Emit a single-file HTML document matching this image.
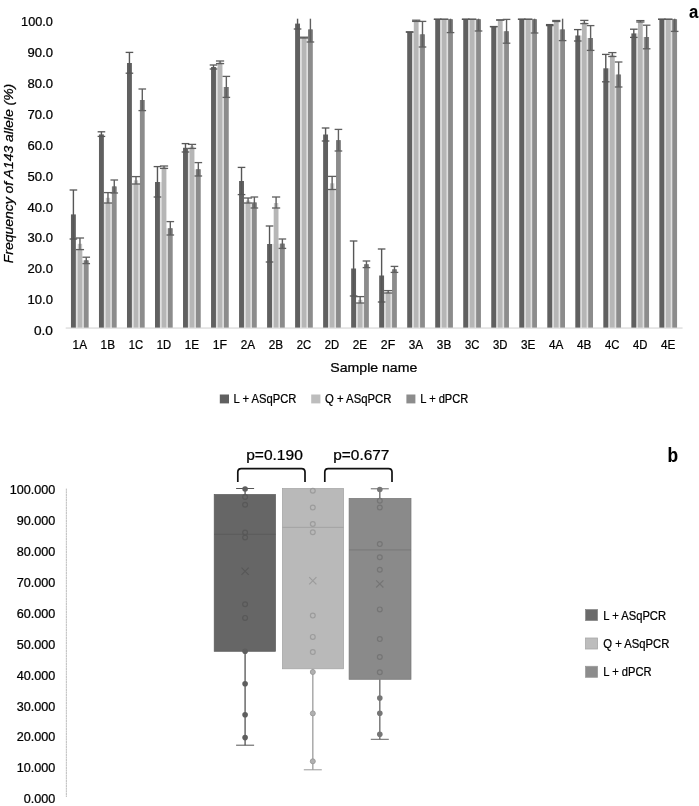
<!DOCTYPE html>
<html><head><meta charset="utf-8"><title>Figure</title>
<style>html,body{margin:0;padding:0;background:#fff}svg{display:block}text{font-family:"Liberation Sans",sans-serif}</style>
</head><body>
<svg width="699" height="806" viewBox="0 0 699 806">
<rect width="699" height="806" fill="#fff"/>
<rect x="65.7" y="327.5" width="616.9" height="1.1" fill="#d4d4d4"/>
<rect x="75.65" y="249.60" width="2" height="78.00" fill="#e0e0e0"/>
<rect x="82.25" y="260.40" width="2" height="67.20" fill="#e0e0e0"/>
<rect x="70.95" y="214.40" width="4.9" height="113.20" fill="#606060"/>
<rect x="77.75" y="243.80" width="4.4" height="5.80" fill="#c6c6c6"/>
<rect x="77.55" y="249.60" width="4.8" height="78.00" fill="#b6b6b6"/>
<rect x="83.85" y="260.40" width="4.8" height="67.20" fill="#8c8c8c"/>
<rect x="72.70" y="190.00" width="1.4" height="49.00" fill="#575757"/>
<rect x="69.60" y="189.35" width="7.6" height="1.3" fill="#575757"/>
<rect x="69.60" y="238.35" width="7.6" height="1.3" fill="#575757"/>
<rect x="79.25" y="238.00" width="1.4" height="11.60" fill="#5e5e5e"/>
<rect x="75.85" y="237.35" width="8.2" height="1.3" fill="#5e5e5e"/>
<rect x="75.85" y="248.95" width="8.2" height="1.3" fill="#5e5e5e"/>
<rect x="84.25" y="260.40" width="4" height="3.20" fill="#757575"/>
<rect x="85.55" y="257.20" width="1.4" height="6.40" fill="#606060"/>
<rect x="82.45" y="256.55" width="7.6" height="1.3" fill="#606060"/>
<rect x="82.45" y="262.95" width="7.6" height="1.3" fill="#606060"/>
<text x="79.80" y="349.3" font-size="12.5" text-anchor="middle" textLength="14.4" lengthAdjust="spacingAndGlyphs" fill="#000" stroke="#000" stroke-width="0.24" >1A</text>
<rect x="103.67" y="203.00" width="2" height="124.60" fill="#e0e0e0"/>
<rect x="110.27" y="203.00" width="2" height="124.60" fill="#e0e0e0"/>
<rect x="98.97" y="134.40" width="4.9" height="193.20" fill="#606060"/>
<rect x="105.77" y="197.80" width="4.4" height="5.20" fill="#c6c6c6"/>
<rect x="105.57" y="203.00" width="4.8" height="124.60" fill="#b6b6b6"/>
<rect x="111.87" y="186.50" width="4.8" height="141.10" fill="#8c8c8c"/>
<rect x="100.72" y="131.80" width="1.4" height="4.60" fill="#575757"/>
<rect x="97.62" y="131.15" width="7.6" height="1.3" fill="#575757"/>
<rect x="97.62" y="135.75" width="7.6" height="1.3" fill="#575757"/>
<rect x="107.27" y="192.60" width="1.4" height="10.40" fill="#5e5e5e"/>
<rect x="103.87" y="191.95" width="8.2" height="1.3" fill="#5e5e5e"/>
<rect x="103.87" y="202.35" width="8.2" height="1.3" fill="#5e5e5e"/>
<rect x="112.27" y="186.50" width="4" height="6.50" fill="#757575"/>
<rect x="113.57" y="180.00" width="1.4" height="13.00" fill="#606060"/>
<rect x="110.47" y="179.35" width="7.6" height="1.3" fill="#606060"/>
<rect x="110.47" y="192.35" width="7.6" height="1.3" fill="#606060"/>
<text x="107.82" y="349.3" font-size="12.5" text-anchor="middle" textLength="14.4" lengthAdjust="spacingAndGlyphs" fill="#000" stroke="#000" stroke-width="0.24" >1B</text>
<rect x="131.69" y="184.00" width="2" height="143.60" fill="#e0e0e0"/>
<rect x="138.29" y="184.00" width="2" height="143.60" fill="#e0e0e0"/>
<rect x="126.99" y="63.00" width="4.9" height="264.60" fill="#606060"/>
<rect x="133.79" y="180.30" width="4.4" height="3.70" fill="#c6c6c6"/>
<rect x="133.59" y="184.00" width="4.8" height="143.60" fill="#b6b6b6"/>
<rect x="139.89" y="100.00" width="4.8" height="227.60" fill="#8c8c8c"/>
<rect x="128.74" y="52.40" width="1.4" height="20.80" fill="#575757"/>
<rect x="125.64" y="51.75" width="7.6" height="1.3" fill="#575757"/>
<rect x="125.64" y="72.55" width="7.6" height="1.3" fill="#575757"/>
<rect x="135.29" y="176.60" width="1.4" height="7.40" fill="#5e5e5e"/>
<rect x="131.89" y="175.95" width="8.2" height="1.3" fill="#5e5e5e"/>
<rect x="131.89" y="183.35" width="8.2" height="1.3" fill="#5e5e5e"/>
<rect x="140.29" y="100.00" width="4" height="10.60" fill="#757575"/>
<rect x="141.59" y="89.00" width="1.4" height="21.60" fill="#606060"/>
<rect x="138.49" y="88.35" width="7.6" height="1.3" fill="#606060"/>
<rect x="138.49" y="109.95" width="7.6" height="1.3" fill="#606060"/>
<text x="135.84" y="349.3" font-size="12.5" text-anchor="middle" textLength="14.4" lengthAdjust="spacingAndGlyphs" fill="#000" stroke="#000" stroke-width="0.24" >1C</text>
<rect x="159.71" y="182.00" width="2" height="145.60" fill="#e0e0e0"/>
<rect x="166.31" y="228.30" width="2" height="99.30" fill="#e0e0e0"/>
<rect x="155.01" y="182.00" width="4.9" height="145.60" fill="#606060"/>
<rect x="161.81" y="167.20" width="4.4" height="1.20" fill="#c6c6c6"/>
<rect x="161.61" y="168.40" width="4.8" height="159.20" fill="#b6b6b6"/>
<rect x="167.91" y="228.30" width="4.8" height="99.30" fill="#8c8c8c"/>
<rect x="156.76" y="166.60" width="1.4" height="30.40" fill="#575757"/>
<rect x="153.66" y="165.95" width="7.6" height="1.3" fill="#575757"/>
<rect x="153.66" y="196.35" width="7.6" height="1.3" fill="#575757"/>
<rect x="163.31" y="166.00" width="1.4" height="2.40" fill="#5e5e5e"/>
<rect x="159.91" y="165.35" width="8.2" height="1.3" fill="#5e5e5e"/>
<rect x="159.91" y="167.75" width="8.2" height="1.3" fill="#5e5e5e"/>
<rect x="168.31" y="228.30" width="4" height="6.70" fill="#757575"/>
<rect x="169.61" y="221.60" width="1.4" height="13.40" fill="#606060"/>
<rect x="166.51" y="220.95" width="7.6" height="1.3" fill="#606060"/>
<rect x="166.51" y="234.35" width="7.6" height="1.3" fill="#606060"/>
<text x="163.86" y="349.3" font-size="12.5" text-anchor="middle" textLength="14.4" lengthAdjust="spacingAndGlyphs" fill="#000" stroke="#000" stroke-width="0.24" >1D</text>
<rect x="187.73" y="148.40" width="2" height="179.20" fill="#e0e0e0"/>
<rect x="194.33" y="169.30" width="2" height="158.30" fill="#e0e0e0"/>
<rect x="183.03" y="147.80" width="4.9" height="179.80" fill="#606060"/>
<rect x="189.83" y="146.40" width="4.4" height="2.00" fill="#c6c6c6"/>
<rect x="189.63" y="148.40" width="4.8" height="179.20" fill="#b6b6b6"/>
<rect x="195.93" y="169.30" width="4.8" height="158.30" fill="#8c8c8c"/>
<rect x="184.78" y="143.60" width="1.4" height="8.40" fill="#575757"/>
<rect x="181.68" y="142.95" width="7.6" height="1.3" fill="#575757"/>
<rect x="181.68" y="151.35" width="7.6" height="1.3" fill="#575757"/>
<rect x="191.33" y="144.40" width="1.4" height="4.00" fill="#5e5e5e"/>
<rect x="187.93" y="143.75" width="8.2" height="1.3" fill="#5e5e5e"/>
<rect x="187.93" y="147.75" width="8.2" height="1.3" fill="#5e5e5e"/>
<rect x="196.33" y="169.30" width="4" height="6.70" fill="#757575"/>
<rect x="197.63" y="162.60" width="1.4" height="13.40" fill="#606060"/>
<rect x="194.53" y="161.95" width="7.6" height="1.3" fill="#606060"/>
<rect x="194.53" y="175.35" width="7.6" height="1.3" fill="#606060"/>
<text x="191.88" y="349.3" font-size="12.5" text-anchor="middle" textLength="14.4" lengthAdjust="spacingAndGlyphs" fill="#000" stroke="#000" stroke-width="0.24" >1E</text>
<rect x="215.75" y="67.00" width="2" height="260.60" fill="#e0e0e0"/>
<rect x="222.35" y="87.00" width="2" height="240.60" fill="#e0e0e0"/>
<rect x="211.05" y="67.00" width="4.9" height="260.60" fill="#606060"/>
<rect x="217.85" y="62.30" width="4.4" height="1.30" fill="#c6c6c6"/>
<rect x="217.65" y="63.60" width="4.8" height="264.00" fill="#b6b6b6"/>
<rect x="223.95" y="87.00" width="4.8" height="240.60" fill="#8c8c8c"/>
<rect x="212.80" y="65.00" width="1.4" height="4.00" fill="#575757"/>
<rect x="209.70" y="64.35" width="7.6" height="1.3" fill="#575757"/>
<rect x="209.70" y="68.35" width="7.6" height="1.3" fill="#575757"/>
<rect x="219.35" y="61.00" width="1.4" height="2.60" fill="#5e5e5e"/>
<rect x="215.95" y="60.35" width="8.2" height="1.3" fill="#5e5e5e"/>
<rect x="215.95" y="62.95" width="8.2" height="1.3" fill="#5e5e5e"/>
<rect x="224.35" y="87.00" width="4" height="10.40" fill="#757575"/>
<rect x="225.65" y="76.40" width="1.4" height="21.00" fill="#606060"/>
<rect x="222.55" y="75.75" width="7.6" height="1.3" fill="#606060"/>
<rect x="222.55" y="96.75" width="7.6" height="1.3" fill="#606060"/>
<text x="219.90" y="349.3" font-size="12.5" text-anchor="middle" textLength="14.4" lengthAdjust="spacingAndGlyphs" fill="#000" stroke="#000" stroke-width="0.24" >1F</text>
<rect x="243.77" y="203.00" width="2" height="124.60" fill="#e0e0e0"/>
<rect x="250.37" y="203.00" width="2" height="124.60" fill="#e0e0e0"/>
<rect x="239.07" y="181.00" width="4.9" height="146.60" fill="#606060"/>
<rect x="245.87" y="200.50" width="4.4" height="2.50" fill="#c6c6c6"/>
<rect x="245.67" y="203.00" width="4.8" height="124.60" fill="#b6b6b6"/>
<rect x="251.97" y="202.50" width="4.8" height="125.10" fill="#8c8c8c"/>
<rect x="240.82" y="167.40" width="1.4" height="27.20" fill="#575757"/>
<rect x="237.72" y="166.75" width="7.6" height="1.3" fill="#575757"/>
<rect x="237.72" y="193.95" width="7.6" height="1.3" fill="#575757"/>
<rect x="247.37" y="198.00" width="1.4" height="5.00" fill="#5e5e5e"/>
<rect x="243.97" y="197.35" width="8.2" height="1.3" fill="#5e5e5e"/>
<rect x="243.97" y="202.35" width="8.2" height="1.3" fill="#5e5e5e"/>
<rect x="252.37" y="202.50" width="4" height="5.50" fill="#757575"/>
<rect x="253.67" y="197.00" width="1.4" height="11.00" fill="#606060"/>
<rect x="250.57" y="196.35" width="7.6" height="1.3" fill="#606060"/>
<rect x="250.57" y="207.35" width="7.6" height="1.3" fill="#606060"/>
<text x="247.92" y="349.3" font-size="12.5" text-anchor="middle" textLength="14.4" lengthAdjust="spacingAndGlyphs" fill="#000" stroke="#000" stroke-width="0.24" >2A</text>
<rect x="271.79" y="244.00" width="2" height="83.60" fill="#e0e0e0"/>
<rect x="278.39" y="243.70" width="2" height="83.90" fill="#e0e0e0"/>
<rect x="267.09" y="244.00" width="4.9" height="83.60" fill="#606060"/>
<rect x="273.89" y="203.00" width="4.4" height="5.00" fill="#c6c6c6"/>
<rect x="273.69" y="208.00" width="4.8" height="119.60" fill="#b6b6b6"/>
<rect x="279.99" y="243.70" width="4.8" height="83.90" fill="#8c8c8c"/>
<rect x="268.84" y="226.00" width="1.4" height="36.00" fill="#575757"/>
<rect x="265.74" y="225.35" width="7.6" height="1.3" fill="#575757"/>
<rect x="265.74" y="261.35" width="7.6" height="1.3" fill="#575757"/>
<rect x="275.39" y="197.00" width="1.4" height="11.00" fill="#5e5e5e"/>
<rect x="271.99" y="196.35" width="8.2" height="1.3" fill="#5e5e5e"/>
<rect x="271.99" y="207.35" width="8.2" height="1.3" fill="#5e5e5e"/>
<rect x="280.39" y="243.70" width="4" height="4.70" fill="#757575"/>
<rect x="281.69" y="239.00" width="1.4" height="9.40" fill="#606060"/>
<rect x="278.59" y="238.35" width="7.6" height="1.3" fill="#606060"/>
<rect x="278.59" y="247.75" width="7.6" height="1.3" fill="#606060"/>
<text x="275.94" y="349.3" font-size="12.5" text-anchor="middle" textLength="14.4" lengthAdjust="spacingAndGlyphs" fill="#000" stroke="#000" stroke-width="0.24" >2B</text>
<rect x="299.81" y="38.00" width="2" height="289.60" fill="#e0e0e0"/>
<rect x="306.41" y="38.00" width="2" height="289.60" fill="#e0e0e0"/>
<rect x="295.11" y="23.60" width="4.9" height="304.00" fill="#606060"/>
<rect x="301.91" y="37.60" width="4.4" height="0.40" fill="#c6c6c6"/>
<rect x="301.71" y="38.00" width="4.8" height="289.60" fill="#b6b6b6"/>
<rect x="308.01" y="29.50" width="4.8" height="298.10" fill="#8c8c8c"/>
<rect x="296.86" y="18.70" width="1.4" height="10.30" fill="#575757"/>
<rect x="293.76" y="28.35" width="7.6" height="1.3" fill="#575757"/>
<rect x="303.41" y="37.20" width="1.4" height="0.80" fill="#5e5e5e"/>
<rect x="300.01" y="36.55" width="8.2" height="1.3" fill="#5e5e5e"/>
<rect x="300.01" y="37.35" width="8.2" height="1.3" fill="#5e5e5e"/>
<rect x="308.41" y="29.50" width="4" height="12.50" fill="#757575"/>
<rect x="309.71" y="18.70" width="1.4" height="23.30" fill="#606060"/>
<rect x="306.61" y="41.35" width="7.6" height="1.3" fill="#606060"/>
<text x="303.96" y="349.3" font-size="12.5" text-anchor="middle" textLength="14.4" lengthAdjust="spacingAndGlyphs" fill="#000" stroke="#000" stroke-width="0.24" >2C</text>
<rect x="327.83" y="189.50" width="2" height="138.10" fill="#e0e0e0"/>
<rect x="334.43" y="189.50" width="2" height="138.10" fill="#e0e0e0"/>
<rect x="323.13" y="134.50" width="4.9" height="193.10" fill="#606060"/>
<rect x="329.93" y="183.30" width="4.4" height="6.20" fill="#c6c6c6"/>
<rect x="329.73" y="189.50" width="4.8" height="138.10" fill="#b6b6b6"/>
<rect x="336.03" y="140.20" width="4.8" height="187.40" fill="#8c8c8c"/>
<rect x="324.88" y="128.00" width="1.4" height="13.00" fill="#575757"/>
<rect x="321.78" y="127.35" width="7.6" height="1.3" fill="#575757"/>
<rect x="321.78" y="140.35" width="7.6" height="1.3" fill="#575757"/>
<rect x="331.43" y="176.40" width="1.4" height="13.10" fill="#5e5e5e"/>
<rect x="328.03" y="175.75" width="8.2" height="1.3" fill="#5e5e5e"/>
<rect x="328.03" y="188.85" width="8.2" height="1.3" fill="#5e5e5e"/>
<rect x="336.43" y="140.20" width="4" height="10.80" fill="#757575"/>
<rect x="337.73" y="129.40" width="1.4" height="21.60" fill="#606060"/>
<rect x="334.63" y="128.75" width="7.6" height="1.3" fill="#606060"/>
<rect x="334.63" y="150.35" width="7.6" height="1.3" fill="#606060"/>
<text x="331.98" y="349.3" font-size="12.5" text-anchor="middle" textLength="14.4" lengthAdjust="spacingAndGlyphs" fill="#000" stroke="#000" stroke-width="0.24" >2D</text>
<rect x="355.85" y="303.00" width="2" height="24.60" fill="#e0e0e0"/>
<rect x="362.45" y="303.00" width="2" height="24.60" fill="#e0e0e0"/>
<rect x="351.15" y="268.50" width="4.9" height="59.10" fill="#606060"/>
<rect x="357.95" y="299.80" width="4.4" height="3.20" fill="#c6c6c6"/>
<rect x="357.75" y="303.00" width="4.8" height="24.60" fill="#b6b6b6"/>
<rect x="364.05" y="264.30" width="4.8" height="63.30" fill="#8c8c8c"/>
<rect x="352.90" y="241.00" width="1.4" height="55.00" fill="#575757"/>
<rect x="349.80" y="240.35" width="7.6" height="1.3" fill="#575757"/>
<rect x="349.80" y="295.35" width="7.6" height="1.3" fill="#575757"/>
<rect x="359.45" y="296.60" width="1.4" height="6.40" fill="#5e5e5e"/>
<rect x="356.05" y="295.95" width="8.2" height="1.3" fill="#5e5e5e"/>
<rect x="356.05" y="302.35" width="8.2" height="1.3" fill="#5e5e5e"/>
<rect x="364.45" y="264.30" width="4" height="3.30" fill="#757575"/>
<rect x="365.75" y="261.00" width="1.4" height="6.60" fill="#606060"/>
<rect x="362.65" y="260.35" width="7.6" height="1.3" fill="#606060"/>
<rect x="362.65" y="266.95" width="7.6" height="1.3" fill="#606060"/>
<text x="360.00" y="349.3" font-size="12.5" text-anchor="middle" textLength="14.4" lengthAdjust="spacingAndGlyphs" fill="#000" stroke="#000" stroke-width="0.24" >2E</text>
<rect x="383.87" y="293.00" width="2" height="34.60" fill="#e0e0e0"/>
<rect x="390.47" y="293.00" width="2" height="34.60" fill="#e0e0e0"/>
<rect x="379.17" y="275.50" width="4.9" height="52.10" fill="#606060"/>
<rect x="385.97" y="291.80" width="4.4" height="1.20" fill="#c6c6c6"/>
<rect x="385.77" y="293.00" width="4.8" height="34.60" fill="#b6b6b6"/>
<rect x="392.07" y="269.40" width="4.8" height="58.20" fill="#8c8c8c"/>
<rect x="380.92" y="249.00" width="1.4" height="53.00" fill="#575757"/>
<rect x="377.82" y="248.35" width="7.6" height="1.3" fill="#575757"/>
<rect x="377.82" y="301.35" width="7.6" height="1.3" fill="#575757"/>
<rect x="387.47" y="290.60" width="1.4" height="2.40" fill="#5e5e5e"/>
<rect x="384.07" y="289.95" width="8.2" height="1.3" fill="#5e5e5e"/>
<rect x="384.07" y="292.35" width="8.2" height="1.3" fill="#5e5e5e"/>
<rect x="392.47" y="269.40" width="4" height="3.00" fill="#757575"/>
<rect x="393.77" y="266.40" width="1.4" height="6.00" fill="#606060"/>
<rect x="390.67" y="265.75" width="7.6" height="1.3" fill="#606060"/>
<rect x="390.67" y="271.75" width="7.6" height="1.3" fill="#606060"/>
<text x="388.02" y="349.3" font-size="12.5" text-anchor="middle" textLength="14.4" lengthAdjust="spacingAndGlyphs" fill="#000" stroke="#000" stroke-width="0.24" >2F</text>
<rect x="411.89" y="32.00" width="2" height="295.60" fill="#e0e0e0"/>
<rect x="418.49" y="34.40" width="2" height="293.20" fill="#e0e0e0"/>
<rect x="407.19" y="32.00" width="4.9" height="295.60" fill="#606060"/>
<rect x="413.99" y="20.80" width="4.4" height="0.60" fill="#c6c6c6"/>
<rect x="413.79" y="21.40" width="4.8" height="306.20" fill="#b6b6b6"/>
<rect x="420.09" y="34.40" width="4.8" height="293.20" fill="#8c8c8c"/>
<rect x="405.84" y="31.35" width="7.6" height="1.3" fill="#575757"/>
<rect x="405.84" y="31.35" width="7.6" height="1.3" fill="#575757"/>
<rect x="415.49" y="20.20" width="1.4" height="1.20" fill="#5e5e5e"/>
<rect x="412.09" y="19.55" width="8.2" height="1.3" fill="#5e5e5e"/>
<rect x="412.09" y="20.75" width="8.2" height="1.3" fill="#5e5e5e"/>
<rect x="420.49" y="34.40" width="4" height="12.60" fill="#757575"/>
<rect x="421.79" y="21.40" width="1.4" height="25.60" fill="#606060"/>
<rect x="418.69" y="20.75" width="7.6" height="1.3" fill="#606060"/>
<rect x="418.69" y="46.35" width="7.6" height="1.3" fill="#606060"/>
<text x="416.04" y="349.3" font-size="12.5" text-anchor="middle" textLength="14.4" lengthAdjust="spacingAndGlyphs" fill="#000" stroke="#000" stroke-width="0.24" >3A</text>
<rect x="439.91" y="19.30" width="2" height="308.30" fill="#e0e0e0"/>
<rect x="446.51" y="19.30" width="2" height="308.30" fill="#e0e0e0"/>
<rect x="435.21" y="19.30" width="4.9" height="308.30" fill="#606060"/>
<rect x="441.81" y="19.30" width="4.8" height="308.30" fill="#b6b6b6"/>
<rect x="448.11" y="19.30" width="4.8" height="308.30" fill="#8c8c8c"/>
<rect x="433.86" y="18.65" width="7.6" height="1.3" fill="#575757"/>
<rect x="433.86" y="18.65" width="7.6" height="1.3" fill="#575757"/>
<rect x="440.11" y="18.65" width="8.2" height="1.3" fill="#5e5e5e"/>
<rect x="440.11" y="18.65" width="8.2" height="1.3" fill="#5e5e5e"/>
<rect x="448.51" y="19.30" width="4" height="13.30" fill="#757575"/>
<rect x="449.81" y="18.70" width="1.4" height="13.90" fill="#606060"/>
<rect x="446.71" y="31.95" width="7.6" height="1.3" fill="#606060"/>
<text x="444.06" y="349.3" font-size="12.5" text-anchor="middle" textLength="14.4" lengthAdjust="spacingAndGlyphs" fill="#000" stroke="#000" stroke-width="0.24" >3B</text>
<rect x="467.93" y="19.30" width="2" height="308.30" fill="#e0e0e0"/>
<rect x="474.53" y="19.30" width="2" height="308.30" fill="#e0e0e0"/>
<rect x="463.23" y="19.30" width="4.9" height="308.30" fill="#606060"/>
<rect x="469.83" y="19.30" width="4.8" height="308.30" fill="#b6b6b6"/>
<rect x="476.13" y="19.30" width="4.8" height="308.30" fill="#8c8c8c"/>
<rect x="461.88" y="18.65" width="7.6" height="1.3" fill="#575757"/>
<rect x="461.88" y="18.65" width="7.6" height="1.3" fill="#575757"/>
<rect x="468.13" y="18.65" width="8.2" height="1.3" fill="#5e5e5e"/>
<rect x="468.13" y="18.65" width="8.2" height="1.3" fill="#5e5e5e"/>
<rect x="476.53" y="19.30" width="4" height="11.70" fill="#757575"/>
<rect x="477.83" y="18.70" width="1.4" height="12.30" fill="#606060"/>
<rect x="474.73" y="30.35" width="7.6" height="1.3" fill="#606060"/>
<text x="472.08" y="349.3" font-size="12.5" text-anchor="middle" textLength="14.4" lengthAdjust="spacingAndGlyphs" fill="#000" stroke="#000" stroke-width="0.24" >3C</text>
<rect x="495.95" y="26.60" width="2" height="301.00" fill="#e0e0e0"/>
<rect x="502.55" y="31.30" width="2" height="296.30" fill="#e0e0e0"/>
<rect x="491.25" y="26.60" width="4.9" height="301.00" fill="#606060"/>
<rect x="497.85" y="20.00" width="4.8" height="307.60" fill="#b6b6b6"/>
<rect x="504.15" y="31.30" width="4.8" height="296.30" fill="#8c8c8c"/>
<rect x="489.90" y="25.95" width="7.6" height="1.3" fill="#575757"/>
<rect x="489.90" y="25.95" width="7.6" height="1.3" fill="#575757"/>
<rect x="496.15" y="19.35" width="8.2" height="1.3" fill="#5e5e5e"/>
<rect x="496.15" y="19.35" width="8.2" height="1.3" fill="#5e5e5e"/>
<rect x="504.55" y="31.30" width="4" height="11.90" fill="#757575"/>
<rect x="505.85" y="19.40" width="1.4" height="23.80" fill="#606060"/>
<rect x="502.75" y="18.75" width="7.6" height="1.3" fill="#606060"/>
<rect x="502.75" y="42.55" width="7.6" height="1.3" fill="#606060"/>
<text x="500.10" y="349.3" font-size="12.5" text-anchor="middle" textLength="14.4" lengthAdjust="spacingAndGlyphs" fill="#000" stroke="#000" stroke-width="0.24" >3D</text>
<rect x="523.97" y="19.30" width="2" height="308.30" fill="#e0e0e0"/>
<rect x="530.57" y="19.30" width="2" height="308.30" fill="#e0e0e0"/>
<rect x="519.27" y="19.30" width="4.9" height="308.30" fill="#606060"/>
<rect x="525.87" y="19.30" width="4.8" height="308.30" fill="#b6b6b6"/>
<rect x="532.17" y="19.30" width="4.8" height="308.30" fill="#8c8c8c"/>
<rect x="517.92" y="18.65" width="7.6" height="1.3" fill="#575757"/>
<rect x="517.92" y="18.65" width="7.6" height="1.3" fill="#575757"/>
<rect x="524.17" y="18.65" width="8.2" height="1.3" fill="#5e5e5e"/>
<rect x="524.17" y="18.65" width="8.2" height="1.3" fill="#5e5e5e"/>
<rect x="532.57" y="19.30" width="4" height="13.70" fill="#757575"/>
<rect x="533.87" y="18.70" width="1.4" height="14.30" fill="#606060"/>
<rect x="530.77" y="32.35" width="7.6" height="1.3" fill="#606060"/>
<text x="528.12" y="349.3" font-size="12.5" text-anchor="middle" textLength="14.4" lengthAdjust="spacingAndGlyphs" fill="#000" stroke="#000" stroke-width="0.24" >3E</text>
<rect x="551.99" y="25.00" width="2" height="302.60" fill="#e0e0e0"/>
<rect x="558.59" y="29.50" width="2" height="298.10" fill="#e0e0e0"/>
<rect x="547.29" y="25.00" width="4.9" height="302.60" fill="#606060"/>
<rect x="554.09" y="21.00" width="4.4" height="0.50" fill="#c6c6c6"/>
<rect x="553.89" y="21.50" width="4.8" height="306.10" fill="#b6b6b6"/>
<rect x="560.19" y="29.50" width="4.8" height="298.10" fill="#8c8c8c"/>
<rect x="549.04" y="24.60" width="1.4" height="1.00" fill="#575757"/>
<rect x="545.94" y="23.95" width="7.6" height="1.3" fill="#575757"/>
<rect x="545.94" y="24.95" width="7.6" height="1.3" fill="#575757"/>
<rect x="555.59" y="20.50" width="1.4" height="1.00" fill="#5e5e5e"/>
<rect x="552.19" y="19.85" width="8.2" height="1.3" fill="#5e5e5e"/>
<rect x="552.19" y="20.85" width="8.2" height="1.3" fill="#5e5e5e"/>
<rect x="560.59" y="29.50" width="4" height="11.10" fill="#757575"/>
<rect x="561.89" y="18.70" width="1.4" height="21.90" fill="#606060"/>
<rect x="558.79" y="39.95" width="7.6" height="1.3" fill="#606060"/>
<text x="556.14" y="349.3" font-size="12.5" text-anchor="middle" textLength="14.4" lengthAdjust="spacingAndGlyphs" fill="#000" stroke="#000" stroke-width="0.24" >4A</text>
<rect x="580.01" y="35.50" width="2" height="292.10" fill="#e0e0e0"/>
<rect x="586.61" y="38.00" width="2" height="289.60" fill="#e0e0e0"/>
<rect x="575.31" y="35.50" width="4.9" height="292.10" fill="#606060"/>
<rect x="582.11" y="22.30" width="4.4" height="1.30" fill="#c6c6c6"/>
<rect x="581.91" y="23.60" width="4.8" height="304.00" fill="#b6b6b6"/>
<rect x="588.21" y="38.00" width="4.8" height="289.60" fill="#8c8c8c"/>
<rect x="577.06" y="29.60" width="1.4" height="11.40" fill="#575757"/>
<rect x="573.96" y="28.95" width="7.6" height="1.3" fill="#575757"/>
<rect x="573.96" y="40.35" width="7.6" height="1.3" fill="#575757"/>
<rect x="583.61" y="20.40" width="1.4" height="3.20" fill="#5e5e5e"/>
<rect x="580.21" y="19.75" width="8.2" height="1.3" fill="#5e5e5e"/>
<rect x="580.21" y="22.95" width="8.2" height="1.3" fill="#5e5e5e"/>
<rect x="588.61" y="38.00" width="4" height="12.40" fill="#757575"/>
<rect x="589.91" y="25.60" width="1.4" height="24.80" fill="#606060"/>
<rect x="586.81" y="24.95" width="7.6" height="1.3" fill="#606060"/>
<rect x="586.81" y="49.75" width="7.6" height="1.3" fill="#606060"/>
<text x="584.16" y="349.3" font-size="12.5" text-anchor="middle" textLength="14.4" lengthAdjust="spacingAndGlyphs" fill="#000" stroke="#000" stroke-width="0.24" >4B</text>
<rect x="608.03" y="68.30" width="2" height="259.30" fill="#e0e0e0"/>
<rect x="614.63" y="74.60" width="2" height="253.00" fill="#e0e0e0"/>
<rect x="603.33" y="68.30" width="4.9" height="259.30" fill="#606060"/>
<rect x="610.13" y="54.60" width="4.4" height="1.90" fill="#c6c6c6"/>
<rect x="609.93" y="56.50" width="4.8" height="271.10" fill="#b6b6b6"/>
<rect x="616.23" y="74.60" width="4.8" height="253.00" fill="#8c8c8c"/>
<rect x="605.08" y="54.40" width="1.4" height="27.40" fill="#575757"/>
<rect x="601.98" y="53.75" width="7.6" height="1.3" fill="#575757"/>
<rect x="601.98" y="81.15" width="7.6" height="1.3" fill="#575757"/>
<rect x="611.63" y="52.60" width="1.4" height="3.90" fill="#5e5e5e"/>
<rect x="608.23" y="51.95" width="8.2" height="1.3" fill="#5e5e5e"/>
<rect x="608.23" y="55.85" width="8.2" height="1.3" fill="#5e5e5e"/>
<rect x="616.63" y="74.60" width="4" height="12.40" fill="#757575"/>
<rect x="617.93" y="62.00" width="1.4" height="25.00" fill="#606060"/>
<rect x="614.83" y="61.35" width="7.6" height="1.3" fill="#606060"/>
<rect x="614.83" y="86.35" width="7.6" height="1.3" fill="#606060"/>
<text x="612.18" y="349.3" font-size="12.5" text-anchor="middle" textLength="14.4" lengthAdjust="spacingAndGlyphs" fill="#000" stroke="#000" stroke-width="0.24" >4C</text>
<rect x="636.05" y="33.40" width="2" height="294.20" fill="#e0e0e0"/>
<rect x="642.65" y="37.00" width="2" height="290.60" fill="#e0e0e0"/>
<rect x="631.35" y="33.40" width="4.9" height="294.20" fill="#606060"/>
<rect x="638.15" y="21.30" width="4.4" height="0.70" fill="#c6c6c6"/>
<rect x="637.95" y="22.00" width="4.8" height="305.60" fill="#b6b6b6"/>
<rect x="644.25" y="37.00" width="4.8" height="290.60" fill="#8c8c8c"/>
<rect x="633.10" y="29.20" width="1.4" height="8.20" fill="#575757"/>
<rect x="630.00" y="28.55" width="7.6" height="1.3" fill="#575757"/>
<rect x="630.00" y="36.75" width="7.6" height="1.3" fill="#575757"/>
<rect x="639.65" y="20.60" width="1.4" height="1.40" fill="#5e5e5e"/>
<rect x="636.25" y="19.95" width="8.2" height="1.3" fill="#5e5e5e"/>
<rect x="636.25" y="21.35" width="8.2" height="1.3" fill="#5e5e5e"/>
<rect x="644.65" y="37.00" width="4" height="11.80" fill="#757575"/>
<rect x="645.95" y="25.20" width="1.4" height="23.60" fill="#606060"/>
<rect x="642.85" y="24.55" width="7.6" height="1.3" fill="#606060"/>
<rect x="642.85" y="48.15" width="7.6" height="1.3" fill="#606060"/>
<text x="640.20" y="349.3" font-size="12.5" text-anchor="middle" textLength="14.4" lengthAdjust="spacingAndGlyphs" fill="#000" stroke="#000" stroke-width="0.24" >4D</text>
<rect x="664.07" y="19.30" width="2" height="308.30" fill="#e0e0e0"/>
<rect x="670.67" y="19.30" width="2" height="308.30" fill="#e0e0e0"/>
<rect x="659.37" y="19.30" width="4.9" height="308.30" fill="#606060"/>
<rect x="665.97" y="19.30" width="4.8" height="308.30" fill="#b6b6b6"/>
<rect x="672.27" y="19.30" width="4.8" height="308.30" fill="#8c8c8c"/>
<rect x="658.02" y="18.65" width="7.6" height="1.3" fill="#575757"/>
<rect x="658.02" y="18.65" width="7.6" height="1.3" fill="#575757"/>
<rect x="664.27" y="18.65" width="8.2" height="1.3" fill="#5e5e5e"/>
<rect x="664.27" y="18.65" width="8.2" height="1.3" fill="#5e5e5e"/>
<rect x="672.67" y="19.30" width="4" height="12.10" fill="#757575"/>
<rect x="673.97" y="18.70" width="1.4" height="12.70" fill="#606060"/>
<rect x="670.87" y="30.75" width="7.6" height="1.3" fill="#606060"/>
<text x="668.22" y="349.3" font-size="12.5" text-anchor="middle" textLength="14.4" lengthAdjust="spacingAndGlyphs" fill="#000" stroke="#000" stroke-width="0.24" >4E</text>
<text x="52.9" y="26.10" font-size="12.0" text-anchor="end" textLength="31.8" lengthAdjust="spacingAndGlyphs" fill="#000" stroke="#000" stroke-width="0.24" >100.0</text>
<text x="52.9" y="57.00" font-size="12.0" text-anchor="end" textLength="25.4" lengthAdjust="spacingAndGlyphs" fill="#000" stroke="#000" stroke-width="0.24" >90.0</text>
<text x="52.9" y="87.90" font-size="12.0" text-anchor="end" textLength="25.4" lengthAdjust="spacingAndGlyphs" fill="#000" stroke="#000" stroke-width="0.24" >80.0</text>
<text x="52.9" y="118.80" font-size="12.0" text-anchor="end" textLength="25.4" lengthAdjust="spacingAndGlyphs" fill="#000" stroke="#000" stroke-width="0.24" >70.0</text>
<text x="52.9" y="149.70" font-size="12.0" text-anchor="end" textLength="25.4" lengthAdjust="spacingAndGlyphs" fill="#000" stroke="#000" stroke-width="0.24" >60.0</text>
<text x="52.9" y="180.60" font-size="12.0" text-anchor="end" textLength="25.4" lengthAdjust="spacingAndGlyphs" fill="#000" stroke="#000" stroke-width="0.24" >50.0</text>
<text x="52.9" y="211.50" font-size="12.0" text-anchor="end" textLength="25.4" lengthAdjust="spacingAndGlyphs" fill="#000" stroke="#000" stroke-width="0.24" >40.0</text>
<text x="52.9" y="242.40" font-size="12.0" text-anchor="end" textLength="25.4" lengthAdjust="spacingAndGlyphs" fill="#000" stroke="#000" stroke-width="0.24" >30.0</text>
<text x="52.9" y="273.30" font-size="12.0" text-anchor="end" textLength="25.4" lengthAdjust="spacingAndGlyphs" fill="#000" stroke="#000" stroke-width="0.24" >20.0</text>
<text x="52.9" y="304.20" font-size="12.0" text-anchor="end" textLength="25.4" lengthAdjust="spacingAndGlyphs" fill="#000" stroke="#000" stroke-width="0.24" >10.0</text>
<text x="52.9" y="335.10" font-size="12.0" text-anchor="end" textLength="19.0" lengthAdjust="spacingAndGlyphs" fill="#000" stroke="#000" stroke-width="0.24" >0.0</text>
<text x="373.8" y="372.2" font-size="13" text-anchor="middle" textLength="87" lengthAdjust="spacingAndGlyphs" fill="#000" stroke="#000" stroke-width="0.24" >Sample name</text>
<text transform="translate(12.5,173.5) rotate(-90)" font-size="13" font-style="italic" stroke="#000" stroke-width="0.24" text-anchor="middle" textLength="179.5" lengthAdjust="spacingAndGlyphs" fill="#000">Frequency of A143 allele (%)</text>
<text x="689.0" y="17.6" font-size="18" text-anchor="start" textLength="9.3" lengthAdjust="spacingAndGlyphs" fill="#000" stroke="#000" stroke-width="0.1" font-weight="bold">a</text>
<rect x="219.8" y="394.5" width="9.2" height="8.9" fill="#606060"/>
<text x="233.6" y="403.4" font-size="12.5" text-anchor="start" textLength="62.8" lengthAdjust="spacingAndGlyphs" fill="#000" stroke="#000" stroke-width="0.24" >L + ASqPCR</text>
<rect x="311.2" y="394.5" width="9.2" height="8.9" fill="#bdbdbd"/>
<text x="325" y="403.4" font-size="12.5" text-anchor="start" textLength="66.4" lengthAdjust="spacingAndGlyphs" fill="#000" stroke="#000" stroke-width="0.24" >Q + ASqPCR</text>
<rect x="406.4" y="394.5" width="9.0" height="8.9" fill="#8c8c8c"/>
<text x="420.3" y="403.4" font-size="12.5" text-anchor="start" textLength="48" lengthAdjust="spacingAndGlyphs" fill="#000" stroke="#000" stroke-width="0.24" >L + dPCR</text>
<line x1="66.35" y1="488.6" x2="66.35" y2="797.0" stroke="#bcbcbc" stroke-width="1" stroke-dasharray="2.2,0.4"/>
<text x="55.3" y="494.20" font-size="12.0" text-anchor="end" textLength="45.6" lengthAdjust="spacingAndGlyphs" fill="#000" stroke="#000" stroke-width="0.24" >100.000</text>
<text x="55.3" y="525.10" font-size="12.0" text-anchor="end" textLength="38.6" lengthAdjust="spacingAndGlyphs" fill="#000" stroke="#000" stroke-width="0.24" >90.000</text>
<text x="55.3" y="556.00" font-size="12.0" text-anchor="end" textLength="38.6" lengthAdjust="spacingAndGlyphs" fill="#000" stroke="#000" stroke-width="0.24" >80.000</text>
<text x="55.3" y="586.90" font-size="12.0" text-anchor="end" textLength="38.6" lengthAdjust="spacingAndGlyphs" fill="#000" stroke="#000" stroke-width="0.24" >70.000</text>
<text x="55.3" y="617.80" font-size="12.0" text-anchor="end" textLength="38.6" lengthAdjust="spacingAndGlyphs" fill="#000" stroke="#000" stroke-width="0.24" >60.000</text>
<text x="55.3" y="648.70" font-size="12.0" text-anchor="end" textLength="38.6" lengthAdjust="spacingAndGlyphs" fill="#000" stroke="#000" stroke-width="0.24" >50.000</text>
<text x="55.3" y="679.60" font-size="12.0" text-anchor="end" textLength="38.6" lengthAdjust="spacingAndGlyphs" fill="#000" stroke="#000" stroke-width="0.24" >40.000</text>
<text x="55.3" y="710.50" font-size="12.0" text-anchor="end" textLength="38.6" lengthAdjust="spacingAndGlyphs" fill="#000" stroke="#000" stroke-width="0.24" >30.000</text>
<text x="55.3" y="741.40" font-size="12.0" text-anchor="end" textLength="38.6" lengthAdjust="spacingAndGlyphs" fill="#000" stroke="#000" stroke-width="0.24" >20.000</text>
<text x="55.3" y="772.30" font-size="12.0" text-anchor="end" textLength="38.6" lengthAdjust="spacingAndGlyphs" fill="#000" stroke="#000" stroke-width="0.24" >10.000</text>
<text x="55.3" y="803.20" font-size="12.0" text-anchor="end" textLength="31.6" lengthAdjust="spacingAndGlyphs" fill="#000" stroke="#000" stroke-width="0.24" >0.000</text>
<line x1="245.1" y1="488.5" x2="245.1" y2="494.5" stroke="#6a6a6a" stroke-width="1.5"/>
<line x1="245.1" y1="651.3" x2="245.1" y2="745.2" stroke="#6a6a6a" stroke-width="1.5"/>
<line x1="236.1" y1="488.5" x2="254.1" y2="488.5" stroke="#555" stroke-width="1"/>
<line x1="236.1" y1="745.2" x2="254.1" y2="745.2" stroke="#555" stroke-width="1"/>
<rect x="214.2" y="494.5" width="61.30" height="156.80" fill="#666666" stroke="#5a5a5a" stroke-width="0.7"/>
<line x1="214.2" y1="534.3" x2="275.5" y2="534.3" stroke="#5a5a5a" stroke-width="0.9"/>
<path d="M241.5 567.6L248.7 574.8000000000001M241.5 574.8000000000001L248.7 567.6" stroke="#585858" stroke-width="1.2" fill="none"/>
<circle cx="245.1" cy="497" r="2.4" fill="none" stroke="#585858" stroke-width="1.2"/>
<circle cx="245.1" cy="504.8" r="2.4" fill="none" stroke="#585858" stroke-width="1.2"/>
<circle cx="245.1" cy="532.5" r="2.4" fill="none" stroke="#585858" stroke-width="1.2"/>
<circle cx="245.1" cy="537.5" r="2.4" fill="none" stroke="#585858" stroke-width="1.2"/>
<circle cx="245.1" cy="604.2" r="2.4" fill="none" stroke="#585858" stroke-width="1.2"/>
<circle cx="245.1" cy="617.9" r="2.4" fill="none" stroke="#585858" stroke-width="1.2"/>
<circle cx="245.1" cy="489" r="2.8" fill="#5e5e5e"/>
<circle cx="245.1" cy="651.3" r="2.8" fill="#5e5e5e"/>
<circle cx="245.1" cy="683.8" r="2.8" fill="#5e5e5e"/>
<circle cx="245.1" cy="714.7" r="2.8" fill="#5e5e5e"/>
<circle cx="245.1" cy="737.6" r="2.8" fill="#5e5e5e"/>
<line x1="312.8" y1="488.5" x2="312.8" y2="488.5" stroke="#a9a9a9" stroke-width="1.5"/>
<line x1="312.8" y1="668.8" x2="312.8" y2="769.8" stroke="#a9a9a9" stroke-width="1.5"/>
<line x1="303.8" y1="769.8" x2="321.8" y2="769.8" stroke="#999" stroke-width="1"/>
<rect x="282.4" y="488.5" width="61.20" height="180.30" fill="#b9b9b9" stroke="#a2a2a2" stroke-width="0.7"/>
<line x1="282.4" y1="527.4" x2="343.6" y2="527.4" stroke="#a2a2a2" stroke-width="0.9"/>
<path d="M309.2 577.1999999999999L316.40000000000003 584.4M309.2 584.4L316.40000000000003 577.1999999999999" stroke="#9c9c9c" stroke-width="1.2" fill="none"/>
<circle cx="312.8" cy="490.8" r="2.4" fill="none" stroke="#9c9c9c" stroke-width="1.2"/>
<circle cx="312.8" cy="507.5" r="2.4" fill="none" stroke="#9c9c9c" stroke-width="1.2"/>
<circle cx="312.8" cy="524" r="2.4" fill="none" stroke="#9c9c9c" stroke-width="1.2"/>
<circle cx="312.8" cy="532.2" r="2.4" fill="none" stroke="#9c9c9c" stroke-width="1.2"/>
<circle cx="312.8" cy="615.6" r="2.4" fill="none" stroke="#9c9c9c" stroke-width="1.2"/>
<circle cx="312.8" cy="636.9" r="2.4" fill="none" stroke="#9c9c9c" stroke-width="1.2"/>
<circle cx="312.8" cy="652.1" r="2.4" fill="none" stroke="#9c9c9c" stroke-width="1.2"/>
<circle cx="312.8" cy="672" r="2.5" fill="#b0b0b0" stroke="#989898" stroke-width="0.9"/>
<circle cx="312.8" cy="713.4" r="2.5" fill="#b0b0b0" stroke="#989898" stroke-width="0.9"/>
<circle cx="312.8" cy="761.3" r="2.5" fill="#b0b0b0" stroke="#989898" stroke-width="0.9"/>
<line x1="379.8" y1="488.8" x2="379.8" y2="498.4" stroke="#7a7a7a" stroke-width="1.5"/>
<line x1="379.8" y1="679.3" x2="379.8" y2="739.3" stroke="#7a7a7a" stroke-width="1.5"/>
<line x1="370.8" y1="488.8" x2="388.8" y2="488.8" stroke="#666" stroke-width="1"/>
<line x1="370.8" y1="739.3" x2="388.8" y2="739.3" stroke="#666" stroke-width="1"/>
<rect x="349.1" y="498.4" width="61.90" height="180.90" fill="#8a8a8a" stroke="#767676" stroke-width="0.7"/>
<line x1="349.1" y1="549.9" x2="411" y2="549.9" stroke="#767676" stroke-width="0.9"/>
<path d="M376.2 580.3L383.40000000000003 587.5M376.2 587.5L383.40000000000003 580.3" stroke="#757575" stroke-width="1.2" fill="none"/>
<circle cx="379.8" cy="500.7" r="2.4" fill="none" stroke="#757575" stroke-width="1.2"/>
<circle cx="379.8" cy="507.5" r="2.4" fill="none" stroke="#757575" stroke-width="1.2"/>
<circle cx="379.8" cy="544.1" r="2.4" fill="none" stroke="#757575" stroke-width="1.2"/>
<circle cx="379.8" cy="557.2" r="2.4" fill="none" stroke="#757575" stroke-width="1.2"/>
<circle cx="379.8" cy="569.8" r="2.4" fill="none" stroke="#757575" stroke-width="1.2"/>
<circle cx="379.8" cy="609.4" r="2.4" fill="none" stroke="#757575" stroke-width="1.2"/>
<circle cx="379.8" cy="639.1" r="2.4" fill="none" stroke="#757575" stroke-width="1.2"/>
<circle cx="379.8" cy="657" r="2.4" fill="none" stroke="#757575" stroke-width="1.2"/>
<circle cx="379.8" cy="672.3" r="2.4" fill="none" stroke="#757575" stroke-width="1.2"/>
<circle cx="379.8" cy="489.5" r="2.8" fill="#767676"/>
<circle cx="379.8" cy="698.1" r="2.8" fill="#767676"/>
<circle cx="379.8" cy="713.2" r="2.8" fill="#767676"/>
<circle cx="379.8" cy="734.3" r="2.8" fill="#767676"/>
<path d="M237.8 481.9L237.8 472.1Q237.8 468.6 241.3 468.6L301.5 468.6Q305.0 468.6 305.0 472.1L305.0 481.9" fill="none" stroke="#111" stroke-width="1.7"/>
<path d="M324.8 481.9L324.8 472.1Q324.8 468.6 328.3 468.6L388.5 468.6Q392.0 468.6 392.0 472.1L392.0 481.9" fill="none" stroke="#111" stroke-width="1.7"/>
<text x="246.2" y="460.1" font-size="14.2" text-anchor="start" textLength="56.6" lengthAdjust="spacingAndGlyphs" fill="#000" stroke="#000" stroke-width="0.24" >p=0.190</text>
<text x="333.3" y="460.1" font-size="14.2" text-anchor="start" textLength="56.1" lengthAdjust="spacingAndGlyphs" fill="#000" stroke="#000" stroke-width="0.24" >p=0.677</text>
<text x="667.6" y="461.9" font-size="20" text-anchor="start" textLength="10.6" lengthAdjust="spacingAndGlyphs" fill="#000" stroke="#000" stroke-width="0.1" font-weight="bold">b</text>
<rect x="585.6" y="609.6" width="12" height="11" fill="#6a6a6a" stroke="#8a8a8a" stroke-width="0.8"/>
<text x="603.3" y="619.8" font-size="12.4" text-anchor="start" textLength="62.7" lengthAdjust="spacingAndGlyphs" fill="#000" stroke="#000" stroke-width="0.24" >L + ASqPCR</text>
<rect x="585.6" y="638" width="12" height="11" fill="#bdbdbd" stroke="#a8a8a8" stroke-width="0.8"/>
<text x="603.3" y="648.1" font-size="12.4" text-anchor="start" textLength="66.1" lengthAdjust="spacingAndGlyphs" fill="#000" stroke="#000" stroke-width="0.24" >Q + ASqPCR</text>
<rect x="585.6" y="666.3" width="12" height="11" fill="#8c8c8c" stroke="#9a9a9a" stroke-width="0.8"/>
<text x="603.3" y="675.9" font-size="12.4" text-anchor="start" textLength="48.2" lengthAdjust="spacingAndGlyphs" fill="#000" stroke="#000" stroke-width="0.24" >L + dPCR</text>
</svg>
</body></html>
